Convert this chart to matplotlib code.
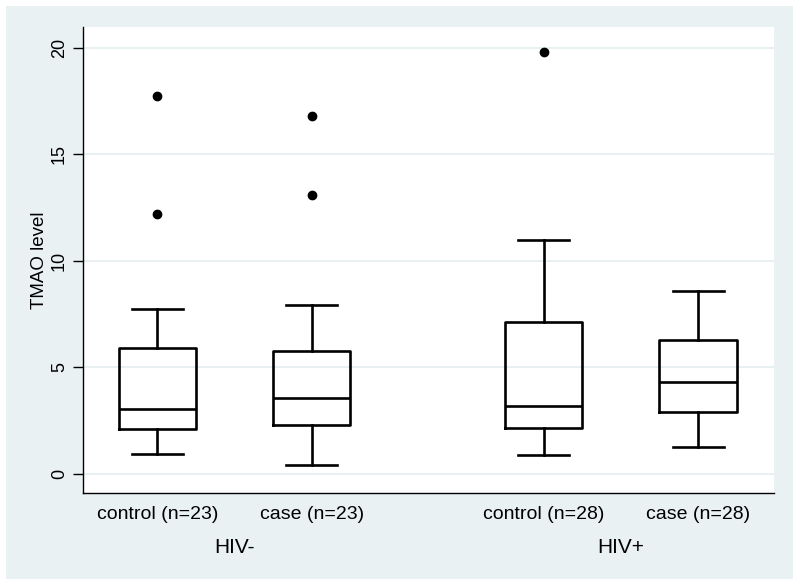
import matplotlib
matplotlib.use("Agg")
import matplotlib.pyplot as plt
from matplotlib.patches import Rectangle

# values (TMAO level)
groups = ["HIV-", "HIV+"]
labels = ["control (n=23)", "case (n=23)", "control (n=28)", "case (n=28)"]
whislo = [0.93, 0.42, 0.89, 1.29]
q1 = [2.10, 2.29, 2.18, 2.91]
med = [3.04, 3.55, 3.18, 4.31]
q3 = [5.93, 5.75, 7.12, 6.31]
whishi = [7.76, 7.94, 10.97, 8.61]
fliers = [[17.76, 12.21], [16.82, 13.08], [19.81], []]

positions = [1, 2, 3.5, 4.5]
group_centers = [1.5, 4.0]

plt.rcParams["font.family"] = ["Liberation Sans", "DejaVu Sans"]

fig = plt.figure(figsize=(8, 5.86), dpi=100)
# light bluish-grey graph region behind the white plot area
fig.add_artist(Rectangle((0.0075, 0.012), 0.984, 0.978, transform=fig.transFigure,
                         facecolor="#eaf1f3", edgecolor="none", zorder=-10))
ax = fig.add_axes([0.104, 0.1587, 0.863, 0.795])
ax.set_facecolor("white")

stats = []
for i in range(len(labels)):
    stats.append({"whislo": whislo[i], "q1": q1[i], "med": med[i], "q3": q3[i],
                  "whishi": whishi[i], "fliers": fliers[i], "label": labels[i]})

ax.bxp(stats, positions=positions, widths=0.5, capwidths=0.33, showfliers=True,
       boxprops=dict(color="black", linewidth=1.9),
       medianprops=dict(color="black", linewidth=1.9),
       whiskerprops=dict(color="black", linewidth=1.9),
       capprops=dict(color="black", linewidth=1.9),
       flierprops=dict(marker="o", markerfacecolor="black", markeredgecolor="black",
                       markersize=6))

ax.set_xlim(0.521, 4.989)
ax.set_ylim(-0.89, 20.97)
ax.set_yticks([0, 5, 10, 15, 20])
ax.set_yticklabels(["0", "5", "10", "15", "20"], rotation=90, va="center", fontsize=13)
ax.yaxis.grid(True, color="#e4eef0", linewidth=1.2)
ax.set_axisbelow(True)
ax.tick_params(axis="y", length=7, width=1, color="black", pad=4)
ax.tick_params(axis="x", length=0, labelsize=14, pad=9)
ax.set_xticks(positions)
ax.set_xticklabels(labels)
ax.set_ylabel("TMAO level", fontsize=13.5, labelpad=2)

for g, c in zip(groups, group_centers):
    ax.text(c, -0.118, g, transform=ax.get_xaxis_transform(), ha="center", va="center",
            fontsize=15)

for s in ["top", "right"]:
    ax.spines[s].set_visible(False)
for s in ["left", "bottom"]:
    ax.spines[s].set_color("black")
    ax.spines[s].set_linewidth(1.0)

fig.savefig("out.png", dpi=100)
